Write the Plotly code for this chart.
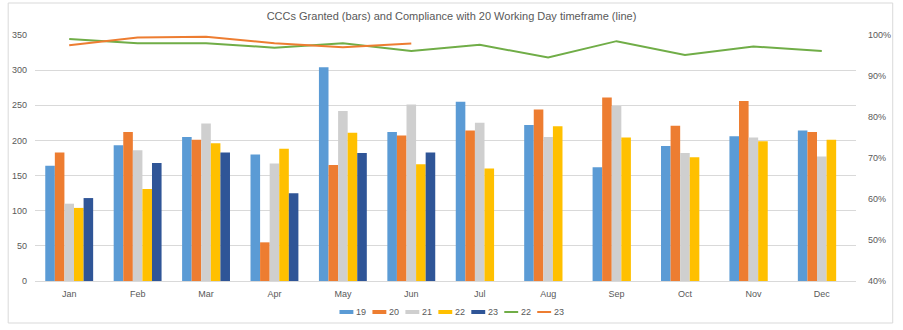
import plotly.graph_objects as go

months = ["Jan", "Feb", "Mar", "Apr", "May", "Jun",
          "Jul", "Aug", "Sep", "Oct", "Nov", "Dec"]

# CCCs granted per month, by year
granted_19 = [164, 193, 205, 180, 304, 212, 255, 222, 162, 192, 206, 214]
granted_20 = [183, 212, 201, 55, 165, 207, 214, 244, 261, 221, 256, 212]
granted_21 = [110, 186, 224, 167, 242, 251, 225, 205, 249, 182, 204, 177]
granted_22 = [104, 131, 196, 188, 211, 166, 160, 220, 204, 176, 199, 201]
granted_23 = [118, 168, 183, 125, 182, 183, None, None, None, None, None, None]

# % compliance with the 20 working day timeframe
compliance_22 = [99.0, 98.0, 98.0, 96.9, 98.0, 96.1, 97.6, 94.5, 98.5, 95.1, 97.2, 96.1]
compliance_23 = [97.5, 99.4, 99.6, 98.0, 97.0, 97.9, None, None, None, None, None, None]

bar_series = [
    ("19", granted_19, "#5B9BD5"),
    ("20", granted_20, "#ED7D31"),
    ("21", granted_21, "#CFCFCF"),
    ("22", granted_22, "#FFC000"),
    ("23", granted_23, "#2F5597"),
]
line_series = [
    ("22", compliance_22, "#70AD47"),
    ("23", compliance_23, "#ED7D31"),
]

W, H = 903, 330
M_L, M_R, M_T, M_B = 35, 41, 35, 49
PW, PH = W - M_L - M_R, H - M_T - M_B


def px_x(px):
    """Pixel column -> paper x."""
    return (px - M_L) / PW


def px_y(py):
    """Pixel row -> paper y."""
    return (H - M_B - py) / PH


fig = go.Figure()
for name, vals, col in bar_series:
    fig.add_trace(go.Bar(x=months, y=vals, name=name, marker_color=col,
                         marker_line_width=0, showlegend=False))
for name, vals, col in line_series:
    fig.add_trace(go.Scatter(x=months, y=vals, name=name, mode="lines",
                             line=dict(color=col, width=2), yaxis="y2",
                             showlegend=False))

text_col = "#595959"
grid_col = "#D9D9D9"

fig.update_layout(
    width=W, height=H,
    margin=dict(l=M_L, r=M_R, t=M_T, b=M_B),
    paper_bgcolor="white", plot_bgcolor="white",
    font=dict(family="Liberation Sans", size=9, color=text_col),
    title=dict(text="CCCs Granted (bars) and Compliance with 20 Working Day timeframe (line)",
               x=0.5, xanchor="center", y=0.95, yanchor="middle",
               font=dict(size=11, color=text_col)),
    barmode="group", bargap=0.3, bargroupgap=0,
    xaxis=dict(showgrid=False, showline=False, ticks="", tickfont=dict(size=9),
               ticklabelstandoff=6),
    yaxis=dict(range=[0, 350], dtick=50, gridcolor=grid_col, gridwidth=1,
               zeroline=True, zerolinecolor=grid_col, zerolinewidth=1,
               showline=False, ticks="", tickfont=dict(size=9),
               ticklabelstandoff=7),
    yaxis2=dict(range=[40, 100], dtick=10, ticksuffix="%", overlaying="y",
                side="right", showgrid=False, zeroline=False, showline=False,
                ticks="", tickfont=dict(size=9), ticklabelstandoff=11),
    showlegend=False,
)

# legend row beneath the axis: coloured swatch + series label
legend_entries = [(n, c, "bar") for n, _, c in bar_series] + \
                 [(n, c, "line") for n, _, c in line_series]
leg_x0, leg_step, leg_y = 341.7, 33.2, 312
for i, (name, col, kind) in enumerate(legend_entries):
    sx = leg_x0 + i * leg_step
    if kind == "bar":
        fig.add_shape(type="rect", xref="paper", yref="paper",
                      x0=px_x(sx), x1=px_x(sx + 14),
                      y0=px_y(leg_y + 2), y1=px_y(leg_y - 2),
                      fillcolor=col, line=dict(width=0))
    else:
        fig.add_shape(type="line", xref="paper", yref="paper",
                      x0=px_x(sx), x1=px_x(sx + 14),
                      y0=px_y(leg_y), y1=px_y(leg_y),
                      line=dict(color=col, width=2))
    fig.add_annotation(text=name, xref="paper", yref="paper",
                       x=px_x(sx + 15), y=px_y(leg_y), xanchor="left",
                       yanchor="middle", showarrow=False,
                       font=dict(size=9, color=text_col))

# light frame around the whole chart
fig.add_shape(type="rect", xref="paper", yref="paper",
              x0=px_x(8), x1=px_x(899), y0=px_y(323), y1=px_y(3),
              line=dict(color="#D9D9D9", width=1), fillcolor="rgba(0,0,0,0)",
              layer="below")

fig.write_html("out.html")
